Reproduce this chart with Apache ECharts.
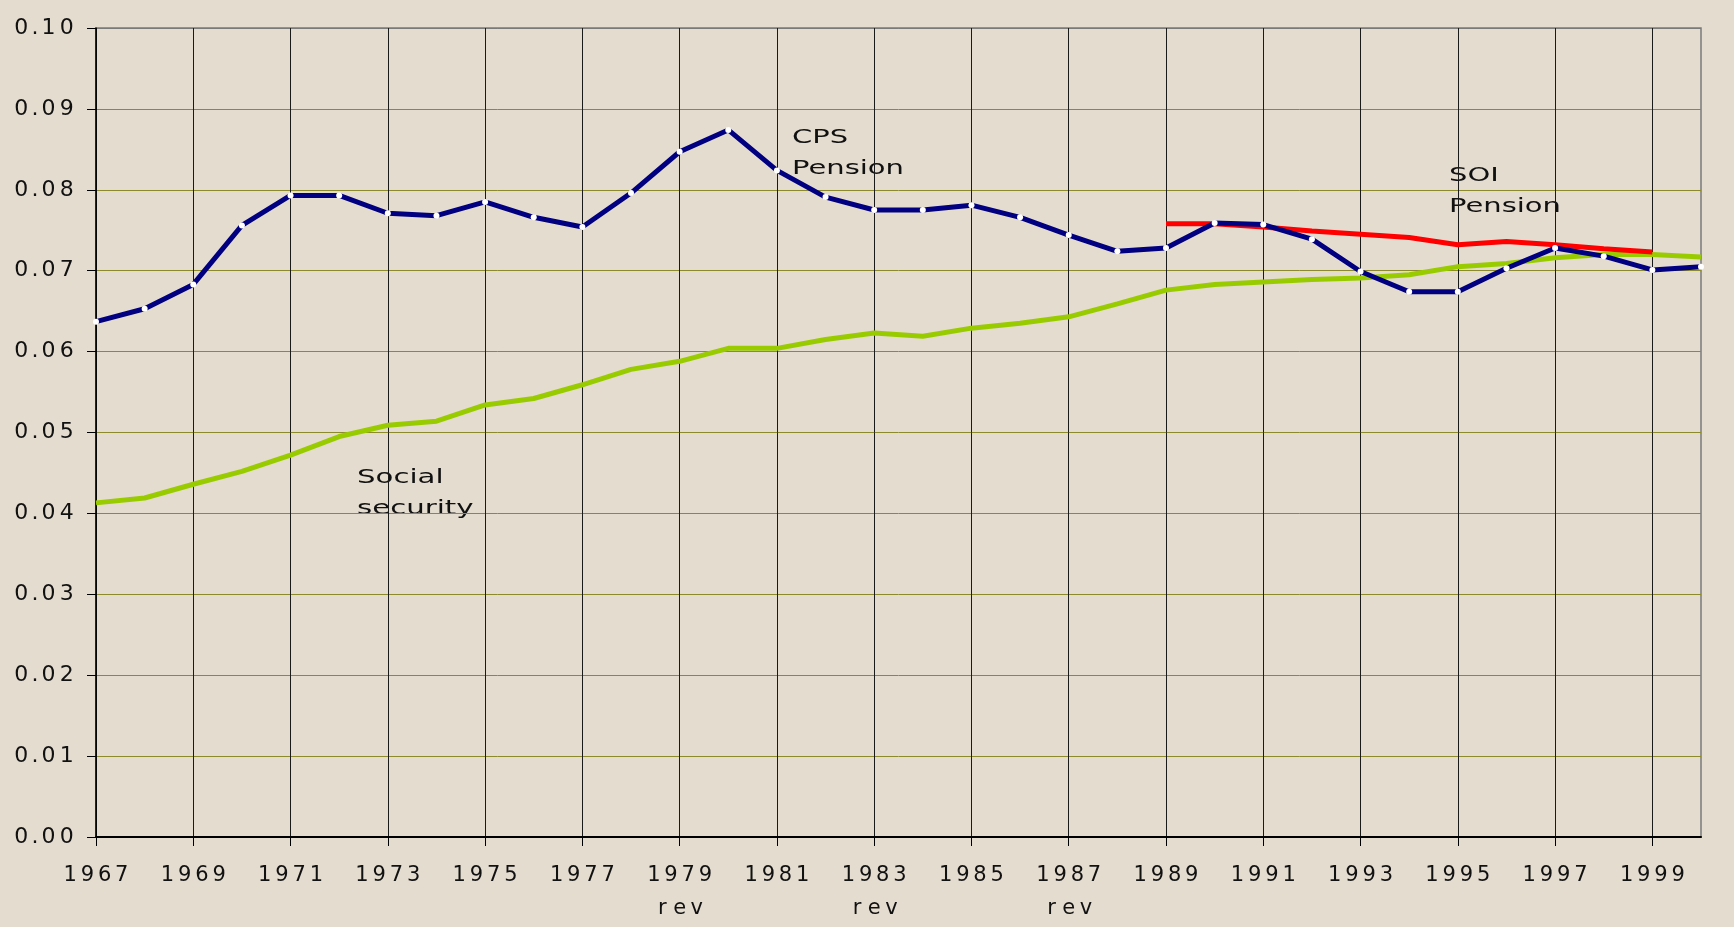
<!DOCTYPE html>
<html>
<head>
<meta charset="utf-8">
<script src="https://cdn.jsdelivr.net/npm/echarts@6/dist/echarts.min.js"></script>
<style>
html,body{margin:0;padding:0;background:#e5dcd0;}
#chart{width:1734px;height:927px;}
</style>
</head>
<body>
<div id="chart"></div>
<script>
const years = ['1967','1968','1969','1970','1971','1972','1973','1974','1975','1976','1977','1978','1979','1980','1981','1982','1983','1984','1985','1986','1987','1988','1989','1990','1991','1992','1993','1994','1995','1996','1997','1998','1999','2000'];
const revYears = ['1979','1983','1987'];
const cpsPension = [0.0637,0.0653,0.0683,0.0756,0.0793,0.0793,0.0771,0.0768,0.0785,0.0766,0.0754,0.0796,0.0847,0.0874,0.0824,0.0791,0.0775,0.0775,0.0781,0.0766,0.0744,0.0724,0.0728,0.0759,0.0757,0.0739,0.0699,0.0674,0.0674,0.0703,0.0728,0.0718,0.0701,0.0705];
const socialSecurity = [0.0413,0.0419,0.0436,0.0452,0.0472,0.0495,0.0509,0.0514,0.0534,0.0542,0.0559,0.0578,0.0588,0.0604,0.0604,0.0615,0.0623,0.0619,0.0629,0.0635,0.0643,0.0659,0.0676,0.0683,0.0686,0.0689,0.0691,0.0695,0.0705,0.0709,0.0716,0.0720,0.0720,0.0717];
const soiPension = [null,null,null,null,null,null,null,null,null,null,null,null,null,null,null,null,null,null,null,null,null,null,0.0758,0.0758,0.0754,0.0749,0.0745,0.0741,0.0732,0.0736,0.0732,0.0727,0.0723,null];

const FONT = 'DejaVu Sans';
const olive = '#8c8a2a';
// wide-set text: each character in its own fixed-width box
const spaced = s => s.split('').map(c => c === '.' ? '{p|.}' : '{d|' + c + '}').join('');

const chart = echarts.init(document.getElementById('chart'));
chart.setOption({
  backgroundColor: '#e5dcd0',
  animation: false,
  grid: {left: 96, right: 33, top: 28, bottom: 90, show: true, borderColor: '#7a7a7a', borderWidth: 1.5, backgroundColor: 'transparent'},
  xAxis: {
    type: 'category', data: years, boundaryGap: false,
    axisLine: {lineStyle: {color: '#000', width: 2}},
    axisTick: {show: true, interval: 1, length: 9, lineStyle: {color: '#000', width: 1}},
    axisLabel: {interval: 1, margin: 22, color: '#111', fontFamily: FONT, fontSize: 21, lineHeight: 33,
      formatter: v => revYears.includes(v) ? spaced(v) + '\n' + spaced('rev') : spaced(v),
      rich: {
        d: {width: 17.2, align: 'center', fontFamily: FONT, fontSize: 21, lineHeight: 33, color: '#111'},
        p: {width: 8, align: 'center', fontFamily: FONT, fontSize: 21, lineHeight: 33, color: '#111'}
      }},
    splitLine: {show: true, interval: 1, lineStyle: {color: '#1a1a1a', width: 1}}
  },
  yAxis: {
    type: 'value', min: 0, max: 0.10, interval: 0.01,
    axisLine: {show: true, lineStyle: {color: '#000', width: 1.5}},
    axisTick: {show: true, length: 9, lineStyle: {color: '#000'}},
    axisLabel: {margin: 20, color: '#111', fontFamily: FONT, fontSize: 22, formatter: v => spaced(v.toFixed(2)),
      rich: {
        d: {width: 18.3, align: 'center', fontFamily: FONT, fontSize: 22, color: '#111'},
        p: {width: 9, align: 'center', fontFamily: FONT, fontSize: 22, color: '#111'}
      }},
    splitLine: {show: true, lineStyle: {color: ['#000', olive, olive, olive, olive, olive, olive, olive, olive, olive, '#7a7a7a'], width: 1}}
  },
  series: [
    {name: 'Social security', type: 'line', data: socialSecurity, symbol: 'none', lineStyle: {color: '#99cc00', width: 5}, z: 2},
    {name: 'SOI Pension', type: 'line', data: soiPension, symbol: 'none', lineStyle: {color: '#ff0000', width: 5}, z: 3},
    {name: 'CPS Pension', type: 'line', data: cpsPension, symbol: 'circle', symbolSize: 6, showAllSymbol: true,
      itemStyle: {color: '#ffffff', borderWidth: 0}, lineStyle: {color: '#000080', width: 5}, z: 4}
  ],
  graphic: [
    {type: 'text', x: 792, y: 122, scaleX: 1.45, style: {text: 'CPS\nPension', font: '20px "DejaVu Sans"', fill: '#111', lineHeight: 31.5}},
    {type: 'text', x: 1449, y: 160, scaleX: 1.45, style: {text: 'SOI\nPension', font: '20px "DejaVu Sans"', fill: '#111', lineHeight: 31.5}},
    {type: 'text', x: 357, y: 462, scaleX: 1.46, style: {text: 'Social\nsecurity', font: '20px "DejaVu Sans"', fill: '#111', lineHeight: 31.5}}
  ]
});
</script>
</body>
</html>
